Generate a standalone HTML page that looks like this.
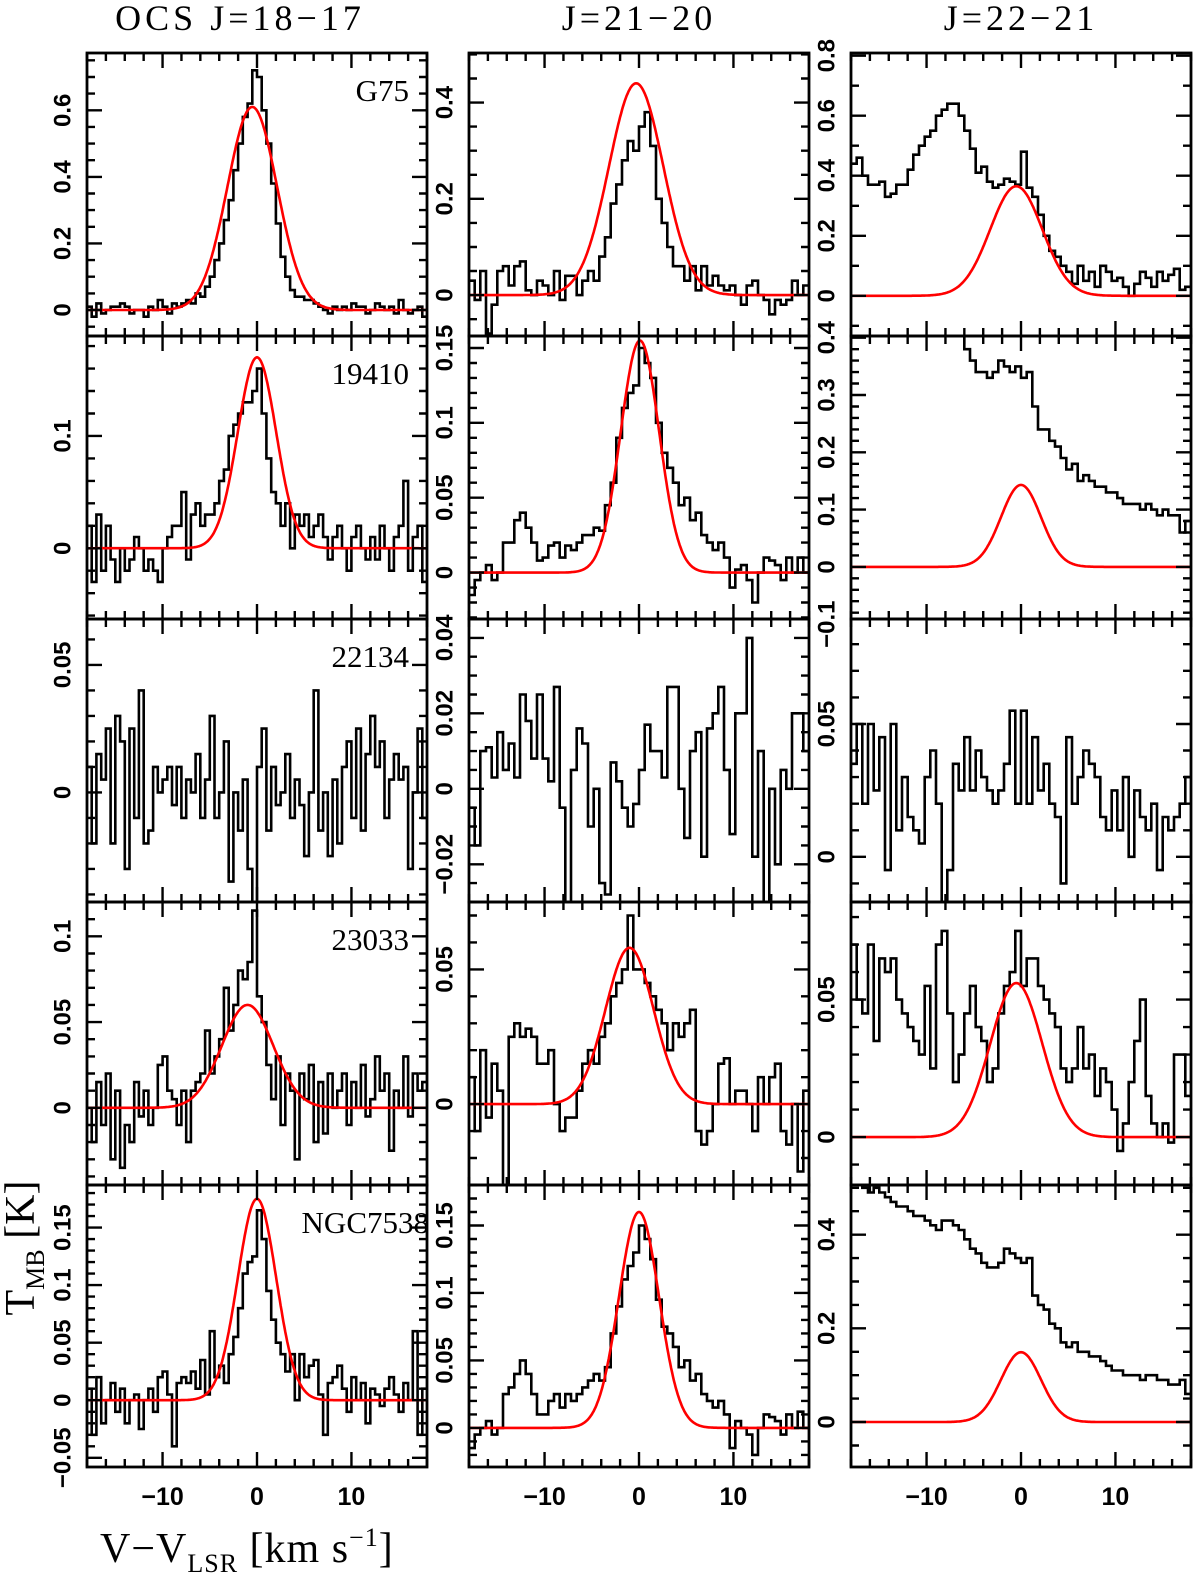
<!DOCTYPE html>
<html><head><meta charset="utf-8">
<style>
html,body{margin:0;padding:0;background:#fff;}
svg{display:block;}
</style></head>
<body>
<svg id="fig" xmlns="http://www.w3.org/2000/svg" width="1200" height="1578" viewBox="0 0 1200 1578">
  <defs id="defs"></defs>
  <text x="240" y="30" font-family="Liberation Serif, serif" font-size="36" text-anchor="middle" letter-spacing="4">OCS J=18−17</text>
  <text x="639" y="30" font-family="Liberation Serif, serif" font-size="36" text-anchor="middle" letter-spacing="4">J=21−20</text>
  <text x="1021" y="30" font-family="Liberation Serif, serif" font-size="36" text-anchor="middle" letter-spacing="4">J=22−21</text>
  <text transform="translate(34,1248) rotate(-90)" font-family="Liberation Serif, serif" font-size="42" text-anchor="middle">T<tspan font-size="26" dy="10">MB</tspan><tspan dy="-10"> [K]</tspan></text>
  <text x="100" y="1562" font-family="Liberation Serif, serif" font-size="42" letter-spacing="1">V−V<tspan font-size="26" dy="10">LSR</tspan><tspan dy="-10"> [km s</tspan><tspan font-size="26" dy="-16">−1</tspan><tspan dy="16">]</tspan></text>
  <g id="panels"></g>
</svg>
<script>
// ---- data ----
const colLefts = [87, 469, 851];
const rowTops = [53, 336, 619, 902, 1185, 1467];
const sourceNames = ["G75", "19410", "22134", "23033", "NGC7538"];
const xTickLabels = [-10, 0, 10];

const yMins = [-0.078,-0.085,-0.134, -0.063,-0.031,-0.091, -0.043,-0.030,-0.017, -0.045,-0.030,-0.0174, -0.058,-0.029,-0.096];
const yMaxs = [0.772,0.503,0.809, 0.189,0.158,0.403, 0.068,0.045,0.0895, 0.120,0.075,0.0855, 0.187,0.180,0.506];
const yMajorTicks = [
 [0,0.2,0.4,0.6],[0,0.2,0.4],[0,0.2,0.4,0.6,0.8],
 [0,0.1],[0,0.05,0.1,0.15],[-0.1,0,0.1,0.2,0.3,0.4],
 [0,0.05],[-0.02,0,0.02,0.04],[0,0.05],
 [0,0.05,0.1],[0,0.05],[0,0.05],
 [-0.05,0,0.05,0.1,0.15],[0,0.05,0.1,0.15],[0,0.2,0.4]];
const yMinorSteps = [0.05,0.05,0.1, 0.02,0.01,0.02, 0.01,0.005,0.01, 0.01,0.01,0.01, 0.01,0.01,0.05];

const fitAmps = [0.61,0.44,0.365, 0.17,0.155,0.143, null,null,null, 0.06,0.058,0.056, 0.175,0.16,0.149];
const fitCentres = [-0.5,-0.3,-0.5, 0,0.1,0, null,null,null, -1,-1,-0.5, 0,0,0];
const fitWidths = [6.2,6.8,6.5, 4.8,4.8,5, null,null,null, 6.4,6,6.5, 4.8,5,5];

const spec11 = [0.01,-0.02,0.02,-0.01,0.00,0.01,0.01,0.02,0.01,-0.01,0.00,0.00,-0.02,0.01,0.00,0.03,0.01,-0.01,0.02,0.01,0.02,0.03,0.02,0.05,
 0.04,0.07,0.1,0.15,0.2,0.27,0.33,0.42,0.5,0.58,0.62,0.72,0.7,0.6,0.5,0.38,0.26,0.16,0.1,0.06,0.04,0.04,0.03,0.03,
 0.02,0.01,0.00,-0.01,0.01,0.00,0.01,0.00,0.02,0.01,0.01,-0.01,0.00,0.02,0.01,0.00,0.01,-0.01,0.03,0.00,-0.01,0.00,0.01,-0.02];
const spec12 = [0.03,-0.01,0.05,-0.08,-0.02,0.05,0.06,0.02,0.06,0.07,0.01,0.00,0.03,0.02,0.00,0.05,-0.01,0.04,0.04,0.00,0.03,
 0.05,0.03,0.08,0.12,0.19,0.23,0.28,0.32,0.30,0.35,0.38,0.31,0.2,0.15,0.1,0.06,0.06,0.03,0.06,0.01,0.06,0.02,
 0.04,0.02,0.01,0.02,0.00,-0.02,0.02,0.03,0.00,-0.01,-0.04,-0.01,-0.02,-0.01,0.03,0.00,0.02];
const spec13 = [0.44,0.46,0.4,0.37,0.37,0.38,0.33,0.34,0.37,0.37,0.42,0.47,0.5,0.53,0.55,0.6,0.62,0.64,0.64,0.6,
 0.55,0.49,0.41,0.43,0.38,0.36,0.37,0.39,0.38,0.37,0.48,0.36,0.33,0.27,0.2,0.15,0.13,0.1,0.08,0.04,
 0.1,0.05,0.08,0.03,0.1,0.08,0.05,0.06,0.03,0.0,0.04,0.08,0.06,0.03,0.08,0.05,0.07,0.09,0.02,0.03];
const spec21 = [0.02,-0.03,0.03,-0.02,0.02,-0.01,-0.03,0.0,-0.02,-0.01,0.01,0.0,-0.02,-0.01,-0.02,-0.03,0.0,0.01,0.02,0.02,
 0.05,-0.01,0.03,0.04,0.02,0.03,0.03,0.04,0.06,0.07,0.1,0.11,0.12,0.13,0.13,0.14,0.16,0.12,
 0.08,0.05,0.04,0.02,0.04,0.0,0.03,0.02,0.03,0.01,
 0.02,0.03,0.01,-0.01,0.01,0.02,0.0,-0.02,0.01,0.02,0.0,-0.01,0.01,-0.01,0.02,0.0,-0.02,0.01,0.02,0.06,-0.02,0.01,0.02,-0.03];
const spec22 = [-0.015,-0.005,0.0,0.005,-0.005,0.0,0.02,0.02,0.035,0.04,0.03,0.02,0.008,0.01,0.018,0.02,0.01,0.018,0.015,0.02,
 0.025,0.025,0.03,0.028,0.045,0.06,0.09,0.11,0.12,0.125,0.15,0.14,0.13,0.1,0.08,0.07,0.06,0.045,0.05,0.035,
 0.04,0.025,0.02,0.015,0.02,0.01,-0.01,0.002,0.005,-0.005,-0.02,0.0,0.01,0.008,0.005,-0.005,0.01,0.0,0.01,0.0];
const spec23 = [0.55,0.56,0.57,0.56,0.58,0.57,0.58,0.56,0.55,0.56,0.55,0.54,0.53,0.52,0.5,0.48,0.47,0.45,0.43,0.41,
 0.38,0.36,0.34,0.34,0.33,0.34,0.36,0.35,0.34,0.35,0.33,0.34,0.28,0.24,0.24,0.22,0.21,0.19,0.17,0.18,
 0.15,0.16,0.15,0.14,0.14,0.13,0.13,0.12,0.11,0.11,0.11,0.1,0.11,0.1,0.09,0.1,0.09,0.09,0.06,0.08];
const spec31 = [0.01,-0.02,0.015,0.005,0.025,-0.02,0.03,0.02,-0.03,0.025,
 -0.01,0.04,-0.02,-0.015,0.01,0.0,0.005,0.01,-0.005,0.01,
 -0.01,0.005,0.0,0.015,-0.01,0.005,0.03,-0.01,0.0,0.02,
 -0.035,0.0,-0.015,0.005,-0.03,-0.05,0.01,0.025,-0.015,0.01,
 -0.005,0.0,0.015,-0.01,0.005,-0.005,-0.025,0.0,0.04,-0.015,
 0.0,-0.025,0.005,-0.02,0.01,0.02,-0.01,0.025,-0.015,0.015,
 0.03,0.01,0.02,-0.01,0.005,0.015,0.005,0.01,-0.03,0.0,0.025,-0.01];
const spec32 = [-0.005,-0.015,0.01,0.011,0.003,0.015,0.005,0.012,0.003,0.025,
 0.018,0.008,0.025,0.008,0.002,0.027,-0.005,-0.038,0.005,0.016,
 0.012,-0.01,0.0,-0.025,-0.028,0.007,0.002,-0.005,-0.01,-0.004,
 0.005,0.017,0.01,0.01,0.003,0.027,0.027,0.0,-0.013,0.01,
 0.015,-0.018,0.016,0.02,0.027,0.005,-0.012,0.02,0.02,0.04,
 -0.018,0.01,-0.034,0.0,-0.02,0.005,0.0,0.02,0.02,0.01];
const spec33 = [0.035,0.05,0.02,0.05,0.025,0.045,-0.005,0.05,0.01,0.03,
 0.015,0.01,0.005,0.03,0.04,0.02,-0.02,-0.005,0.035,0.025,
 0.045,0.025,0.04,0.03,0.025,0.02,0.025,0.035,0.055,0.02,
 0.055,0.02,0.045,0.025,0.035,0.02,0.015,-0.01,0.045,0.02,
 0.03,0.04,0.035,0.03,0.015,0.01,0.025,0.01,0.03,0.0,
 0.025,0.015,0.01,0.02,-0.005,0.015,0.01,0.015,0.02,0.03];
const spec41 = [0.0,-0.02,0.015,-0.01,0.02,-0.03,0.01,-0.035,-0.01,-0.02,
 0.015,-0.005,0.01,-0.01,0.0,0.025,0.03,0.01,0.005,-0.01,
 0.01,-0.02,0.01,0.015,0.02,0.045,0.02,0.03,0.04,0.07,
 0.045,0.06,0.08,0.075,0.085,0.115,0.065,0.05,0.025,0.005,
 0.03,-0.01,0.02,0.01,-0.03,0.02,0.005,0.025,-0.02,0.015,
 -0.015,0.02,0.0,0.01,0.02,-0.01,0.015,0.0,0.025,-0.005,
 0.005,0.03,0.01,0.02,-0.025,0.01,0.0,0.03,-0.005,0.02,0.01,0.015];
const spec42 = [0.01,-0.01,0.02,-0.005,0.015,0.005,-0.03,0.025,0.03,0.025,
 0.028,0.025,0.015,0.015,0.02,0.0,-0.01,-0.005,-0.005,0.005,
 0.015,0.02,0.015,0.025,0.03,0.04,0.045,0.05,0.07,0.05,
 0.05,0.045,0.04,0.035,0.03,0.02,0.03,0.025,0.03,0.035,
 -0.01,-0.015,-0.01,0.0,0.015,0.017,0.0,0.005,0.005,0.0,
 -0.01,0.01,0.0,0.01,0.015,-0.01,-0.015,0.0,-0.025,0.005];
const spec43 = [0.07,0.05,0.045,0.07,0.035,0.065,0.06,0.065,0.05,0.045,
 0.04,0.035,0.03,0.055,0.025,0.07,0.075,0.045,0.02,0.03,
 0.045,0.055,0.04,0.035,0.02,0.025,0.045,0.055,0.06,0.075,
 0.055,0.065,0.065,0.055,0.05,0.045,0.04,0.025,0.02,0.025,
 0.04,0.025,0.03,0.015,0.025,0.02,0.01,-0.005,0.005,0.02,
 0.035,0.05,0.015,0.005,0.0,0.005,-0.002,0.03,0.03,0.015];
const spec51 = [0.01,-0.03,0.02,-0.02,0.0,0.015,-0.01,0.01,-0.02,0.0,
 0.005,-0.025,0.0,0.01,-0.01,0.02,0.025,0.005,-0.04,0.015,
 0.02,0.015,0.025,0.01,0.035,0.005,0.06,0.02,0.03,0.015,
 0.04,0.055,0.08,0.11,0.12,0.125,0.165,0.14,0.095,0.07,
 0.05,0.04,0.025,0.04,0.0,0.04,0.02,0.03,0.035,0.005,
 -0.03,0.015,0.02,0.03,0.01,-0.01,0.02,0.0,0.015,-0.02,
 0.01,0.005,-0.005,0.01,0.02,0.005,-0.01,0.015,0.0,0.06,-0.03,0.01];
const spec52 = [-0.015,-0.005,0.0,0.005,-0.005,0.0,0.025,0.03,0.04,0.05,
 0.04,0.025,0.01,0.01,0.02,0.025,0.015,0.025,0.02,0.025,
 0.03,0.035,0.04,0.035,0.045,0.07,0.09,0.11,0.12,0.13,
 0.15,0.14,0.125,0.095,0.075,0.07,0.06,0.045,0.05,0.035,
 0.04,0.025,0.02,0.015,0.02,0.01,-0.015,0.005,0.0,-0.005,
 -0.02,0.0,0.01,0.008,0.005,-0.005,0.01,0.0,0.012,0.0];
const spec53 = [0.53,0.51,0.5,0.49,0.5,0.49,0.48,0.47,0.46,0.46,
 0.45,0.44,0.44,0.43,0.42,0.41,0.43,0.43,0.42,0.41,
 0.39,0.37,0.36,0.34,0.33,0.33,0.34,0.37,0.36,0.35,
 0.34,0.35,0.27,0.25,0.24,0.21,0.2,0.17,0.16,0.17,
 0.15,0.15,0.14,0.14,0.13,0.12,0.11,0.11,0.1,0.1,
 0.1,0.09,0.1,0.1,0.09,0.09,0.08,0.08,0.09,0.06];
const spectra = [spec11,spec12,spec13,spec21,spec22,spec23,spec31,spec32,spec33,spec41,spec42,spec43,spec51,spec52,spec53];

// ---- drawing ----
const NS = "http://www.w3.org/2000/svg";
const PW = 340, VMIN = -18, VMAX = 18;
const panelsG = document.getElementById("panels");
const defs = document.getElementById("defs");
function mk(tag, attrs, parent){ const e = document.createElementNS(NS, tag); for (const k in attrs) e.setAttribute(k, attrs[k]); parent.appendChild(e); return e; }
function fmt(v){ if (Math.abs(v) < 1e-9) return "0"; let s = String(+v.toFixed(3)); s = s.replace("-", "−"); return s; }

for (let r = 0; r < 5; r++) {
  for (let c = 0; c < 3; c++) {
    const k = r*3 + c;
    const L = colLefts[c], R = L + PW, T = rowTops[r], B = rowTops[r+1];
    const ymin = yMins[k], ymax = yMaxs[k];
    const xs = v => L + (v - VMIN) / (VMAX - VMIN) * PW;
    const ys = v => B - (v - ymin) / (ymax - ymin) * (B - T);
    const g = mk("g", {}, panelsG);
    
    
    const cp = mk("clipPath", {id: "clip" + k}, defs);
    mk("rect", {x: L, y: T, width: PW, height: B - T}, cp);

    const d = spectra[k]; const n = d.length; const w = (VMAX - VMIN) / n;
    let p = "";
    for (let i = 0; i < n; i++) {
      const x0 = xs(VMIN + i*w), x1 = xs(VMIN + (i+1)*w), y = ys(d[i]);
      p += (i === 0 ? "M" : "L") + x0.toFixed(1) + "," + y.toFixed(1) + "L" + x1.toFixed(1) + "," + y.toFixed(1);
    }
    const sp = mk("path", {d: p, fill: "none", stroke: "#000", "stroke-width": 2.6, "clip-path": "url(#clip" + k + ")"}, g);
    
    

    if (fitAmps[k] !== null) {
      const a = fitAmps[k], c0 = fitCentres[k], sig = fitWidths[k] / 2.3548;
      let q = "";
      for (let j = 0; j <= 360; j++) {
        const v = VMIN + j * (VMAX - VMIN) / 360;
        const val = a * Math.exp(-0.5 * ((v - c0) / sig) ** 2);
        q += (j ? "L" : "M") + xs(v).toFixed(1) + "," + ys(val).toFixed(1);
      }
      const gp = mk("path", {d: q, fill: "none", stroke: "#f00", "stroke-width": 2.6, "clip-path": "url(#clip" + k + ")"}, g);
      
      
    }

    let tp = "";
    for (let v = -18; v <= 18; v += 2) {
      const x = xs(v); const len = (v % 10 === 0) ? 15 : 8;
      tp += "M" + x + "," + B + "v" + (-len) + "M" + x + "," + T + "v" + len;
    }
    const st = yMinorSteps[k];
    const maj = yMajorTicks[k];
    const mstart = Math.ceil(ymin / st - 1e-6);
    for (let m = mstart; m * st <= ymax + 1e-9; m++) {
      const v = m * st; const y = ys(v);
      const isMaj = maj.some(t => Math.abs(t - v) < st * 0.01);
      const len = isMaj ? 15 : 8;
      tp += "M" + L + "," + y.toFixed(1) + "h" + len + "M" + R + "," + y.toFixed(1) + "h" + (-len);
    }
    const tk = mk("path", {d: tp, stroke: "#000", "stroke-width": 2.4, fill: "none"}, g);
    
    

    const fr = mk("rect", {x: L, y: T, width: PW, height: B - T, fill: "none", stroke: "#000", "stroke-width": 2.8}, g);
    
    

    maj.forEach(t => {
      const y = ys(t);
      const tx = mk("text", {transform: "translate(" + (L - 24) + "," + y.toFixed(1) + ") rotate(-90)", "text-anchor": "middle", "dominant-baseline": "central", "font-family": "Liberation Sans, sans-serif", "font-size": 24, "font-weight": "bold"}, g);
      tx.textContent = fmt(t);
      
      
    });

    if (r === 4) {
      xTickLabels.forEach(t => {
        const tx = mk("text", {x: xs(t), y: B + 38, "text-anchor": "middle", "font-family": "Liberation Sans, sans-serif", "font-size": 25, "font-weight": "bold"}, g);
        tx.textContent = fmt(t);
        
        
      });
    }

    if (c === 0) {
      const nm = mk("text", {x: r === 4 ? R + 2 : R - 18, y: T + 48, "text-anchor": "end", "font-family": "Liberation Serif, serif", "font-size": 31}, g);
      nm.textContent = sourceNames[r];
      
      
    }
  }
}
</script>
</body></html>
